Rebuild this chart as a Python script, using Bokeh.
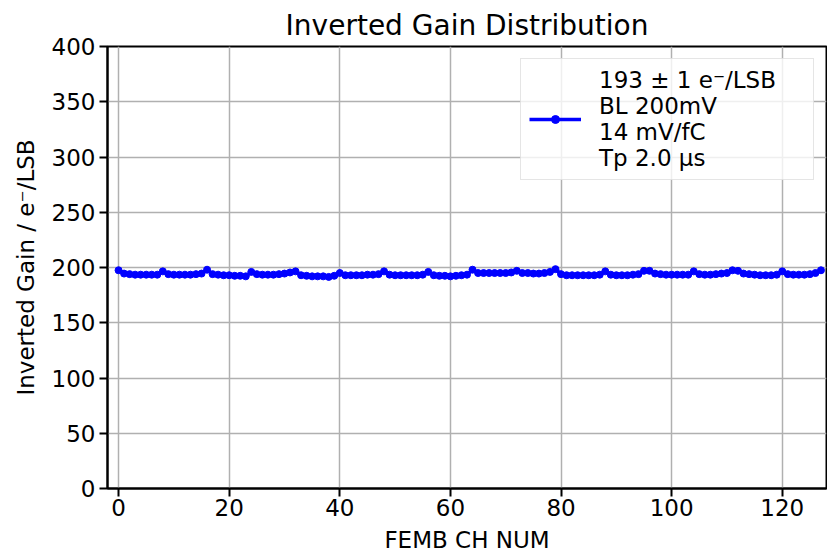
from bokeh.plotting import figure
from bokeh.models import Legend, LegendItem, FixedTicker, Range1d
from bokeh.embed import file_html
from bokeh.resources import INLINE

channels = list(range(128))
gain = [
    197.5, 194.5, 194, 193.5, 193.5, 193.5, 193.5, 193.5,
    196.5, 194, 193.5, 193.5, 193.5, 193.5, 194, 194.5,
    198, 194, 193.5, 193, 193, 192.5, 192.5, 192,
    196, 194, 193.5, 193.5, 193.5, 194, 194.5, 195.5,
    196.5, 193, 192.5, 192, 192, 192, 191.5, 192.5,
    195, 193, 193, 193, 193, 193.5, 193.5, 194,
    196.5, 193.5, 193, 193, 193, 193, 193, 193.5,
    196, 193, 192.5, 192.5, 192, 192.5, 193, 193.5,
    198, 195, 195, 195, 195, 195, 195, 195.5,
    197, 195, 195, 194.5, 194.5, 195, 196, 198.5,
    194, 193, 193, 193, 193, 193, 193, 193.5,
    196.5, 193.5, 193, 193, 193, 193.5, 194, 197,
    197, 194.5, 194, 193.5, 193.5, 193.5, 193.5, 193.5,
    196.5, 194, 193.5, 193.5, 194, 194.5, 195, 197.5,
    197, 194.5, 194, 193.5, 193, 193, 193, 193.5,
    196.5, 194, 193.5, 193.5, 193.5, 194, 195, 197.5,
]
x_ticks = [0, 20, 40, 60, 80, 100, 120]
y_ticks = [0, 50, 100, 150, 200, 250, 300, 350, 400]
legend_label = "193 ± 1 e⁻/LSB\nBL 200mV\n14 mV/fC\nTp 2.0 μs"

FONT = "DejaVu Sans"

p = figure(width=827, height=555, output_backend="svg", toolbar_location=None,
           x_range=Range1d(-2, 128), y_range=Range1d(0, 400),
           min_border_left=107, min_border_right=1, min_border_top=46, min_border_bottom=66,
           title="Inverted Gain Distribution")

p.title.align = "center"
p.title.text_font = FONT
p.title.text_font_size = "28px"
p.title.text_font_style = "normal"
p.title.text_color = "#000000"
p.title.standoff = 9

p.background_fill_color = "white"
p.border_fill_color = "white"
p.outline_line_color = "#000000"
p.outline_line_width = 2

for ax in (p.xaxis[0], p.yaxis[0]):
    ax.major_label_text_font = FONT
    ax.major_label_text_font_size = "23px"
    ax.major_label_text_color = "#000000"
    ax.axis_label_text_font = FONT
    ax.axis_label_text_font_size = "23px"
    ax.axis_label_text_font_style = "normal"
    ax.axis_label_text_color = "#000000"
    ax.minor_tick_line_color = None
    ax.major_tick_out = 8
    ax.major_tick_in = 0
    ax.major_tick_line_width = 2
    ax.major_tick_line_color = "#000000"
    ax.axis_line_color = "#000000"
    ax.axis_line_width = 2

p.xaxis.ticker = FixedTicker(ticks=x_ticks)
p.yaxis.ticker = FixedTicker(ticks=y_ticks)
p.xaxis.axis_label = "FEMB CH NUM"
p.yaxis.axis_label = "Inverted Gain / e⁻/LSB"
p.xaxis.major_label_standoff = 2
p.yaxis.major_label_standoff = 4
p.xaxis.axis_label_standoff = 8
p.yaxis.axis_label_standoff = 10

p.grid.grid_line_color = "#b0b0b0"
p.grid.grid_line_width = 1.5

line = p.line(channels, gain, line_color="#0000ff", line_width=3.5)
dots = p.scatter(channels, gain, size=7, fill_color="#0000ff", line_color="#0000ff")

legend = Legend(items=[LegendItem(label=legend_label, renderers=[line, dots])],
                location="top_right")
legend.label_text_font = FONT
legend.label_text_font_size = "23px"
legend.label_text_color = "#000000"
legend.glyph_width = 52
legend.label_standoff = 18
legend.label_width = 206
legend.border_line_color = "#cccccc"
legend.border_line_width = 1.5
legend.background_fill_alpha = 0.8
legend.margin = 12
legend.padding = 8
p.add_layout(legend)

open("out.html", "w").write(file_html(p, INLINE))
